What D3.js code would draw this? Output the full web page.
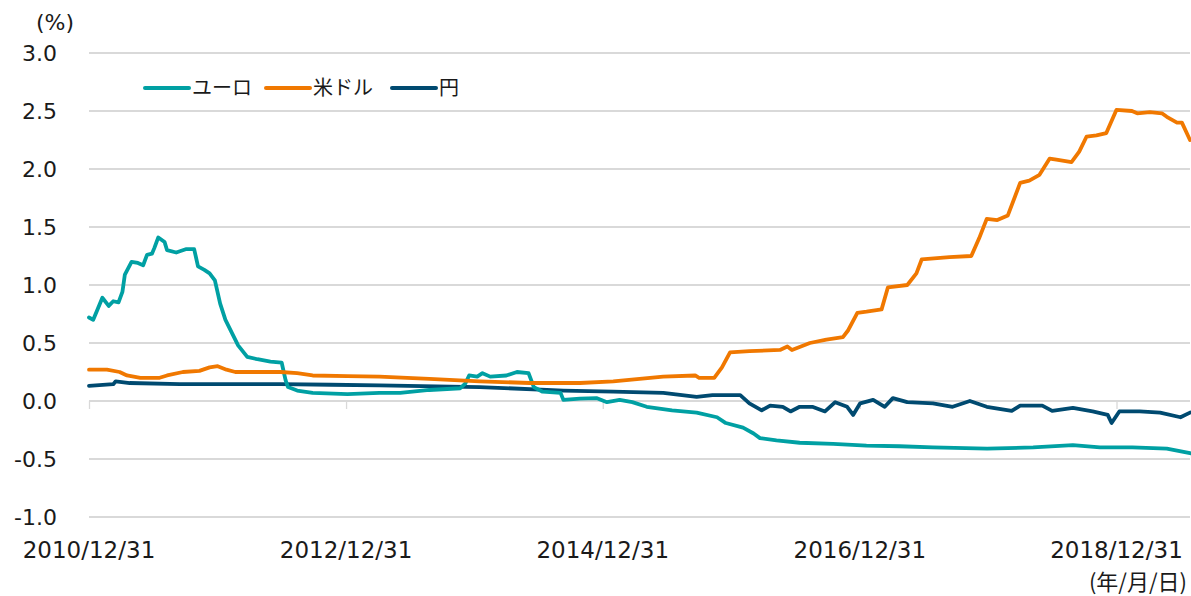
<!DOCTYPE html>
<html lang="ja">

<head>
	<meta charset="utf-8">
	<title>LIBOR 3M</title>
	<script src="https://d3js.org/d3.v7.min.js"></script>
	<style type="text/css">
		body {
			margin: 0;
			background: #fff;
		}

		text {
			font-family: "DejaVu Sans", "Noto Sans CJK JP", sans-serif;
			fill: #1a1a1a;
		}

		.grid line {
			stroke: #d9d9d9;
			stroke-width: 1.3;
			shape-rendering: crispEdges;
		}

		.series {
			fill: none;
			stroke-width: 3.8;
			stroke-linejoin: round;
			stroke-linecap: round;
		}
	</style>
</head>

<body>

	<script type="text/javascript">

		//Series names and colours
		var seriesNames = ["ユーロ", "米ドル", "円"];
		var seriesColors = ["#00A0A3", "#F07800", "#004A70"];

		//Euro
		var euroDates = ["2010-12-31", "2011-01-12", "2011-01-23", "2011-02-07", "2011-02-25", "2011-03-10", "2011-03-25",
			"2011-04-05", "2011-04-12", "2011-05-01", "2011-05-19", "2011-06-03", "2011-06-14", "2011-06-28", "2011-07-05",
			"2011-07-16", "2011-08-03", "2011-08-10", "2011-09-05", "2011-10-04", "2011-10-26", "2011-11-06", "2011-11-24",
			"2011-12-09", "2011-12-24", "2012-01-08", "2012-01-23", "2012-02-10", "2012-02-28", "2012-03-25", "2012-04-23",
			"2012-05-30", "2012-07-01", "2012-07-12", "2012-07-19", "2012-08-14", "2012-09-27", "2013-01-04", "2013-04-05",
			"2013-06-03", "2013-08-25", "2013-11-21", "2013-12-05", "2013-12-16", "2014-01-08", "2014-01-23", "2014-02-14",
			"2014-04-01", "2014-05-01", "2014-06-03", "2014-06-18", "2014-07-13", "2014-09-02", "2014-09-10", "2014-10-27",
			"2014-12-13", "2015-01-12", "2015-02-17", "2015-03-25", "2015-05-05", "2015-07-16", "2015-09-24", "2015-11-21",
			"2015-12-16", "2016-02-03", "2016-03-04", "2016-03-22", "2016-05-08", "2016-07-13", "2016-10-16", "2017-01-19",
			"2017-04-23", "2017-07-27", "2017-12-28", "2018-05-08", "2018-08-29", "2018-11-14", "2019-02-14", "2019-05-23",
			"2019-07-28"];
		var euroValues = [0.72, 0.70, 0.78, 0.89, 0.82, 0.86, 0.85,
			0.94, 1.09, 1.20, 1.19, 1.17, 1.26, 1.27, 1.32,
			1.41, 1.37, 1.30, 1.28, 1.31, 1.31, 1.16, 1.13,
			1.10, 1.04, 0.84, 0.70, 0.59, 0.48, 0.38, 0.36,
			0.34, 0.33, 0.18, 0.12, 0.09, 0.07, 0.06, 0.07,
			0.07, 0.095, 0.11, 0.15, 0.22, 0.21, 0.24, 0.21,
			0.22, 0.25, 0.24, 0.12, 0.08, 0.07, 0.01, 0.02,
			0.025, -0.01, 0.01, -0.01, -0.05, -0.08, -0.10, -0.14,
			-0.19, -0.23, -0.28, -0.32, -0.34, -0.36, -0.37, -0.385,
			-0.39, -0.40, -0.41, -0.40, -0.38, -0.40, -0.40, -0.41,
			-0.45];

		//US dollar
		var usdDates = ["2010-12-31", "2011-02-20", "2011-03-28", "2011-04-18", "2011-05-26", "2011-07-20", "2011-08-10",
			"2011-09-24", "2011-11-10", "2011-12-09", "2012-01-01", "2012-01-26", "2012-02-20", "2012-06-28", "2012-08-14",
			"2012-09-27", "2013-01-04", "2013-04-05", "2013-08-25", "2014-01-15", "2014-06-06", "2014-10-27", "2015-01-30",
			"2015-06-21", "2015-09-20", "2015-10-01", "2015-11-13", "2015-12-05", "2015-12-28", "2016-02-21", "2016-05-18",
			"2016-06-08", "2016-06-21", "2016-08-11", "2016-09-27", "2016-11-13", "2016-11-28", "2016-12-24", "2017-01-19",
			"2017-03-03", "2017-03-21", "2017-05-15", "2017-06-10", "2017-06-25", "2017-09-12", "2017-11-13", "2017-12-05",
			"2017-12-27", "2018-01-26", "2018-02-25", "2018-04-01", "2018-04-27", "2018-05-26", "2018-06-24", "2018-07-13",
			"2018-08-25", "2018-09-16", "2018-10-07", "2018-11-04", "2018-12-02", "2018-12-31", "2019-02-13", "2019-02-28",
			"2019-04-05", "2019-05-09", "2019-05-23", "2019-06-21", "2019-07-05", "2019-07-28"];
		var usdValues = [0.27, 0.27, 0.25, 0.22, 0.20, 0.20, 0.22,
			0.25, 0.26, 0.29, 0.30, 0.27, 0.25, 0.25, 0.24,
			0.22, 0.215, 0.21, 0.19, 0.17, 0.155, 0.155, 0.17,
			0.21, 0.22, 0.20, 0.20, 0.29, 0.42, 0.43, 0.44,
			0.47, 0.44, 0.50, 0.53, 0.55, 0.61, 0.76, 0.77,
			0.79, 0.98, 1.00, 1.10, 1.22, 1.24, 1.25, 1.40,
			1.57, 1.56, 1.60, 1.88, 1.90, 1.95, 2.09, 2.08,
			2.06, 2.15, 2.28, 2.29, 2.31, 2.51, 2.50, 2.48,
			2.49, 2.48, 2.45, 2.40, 2.40, 2.25];

		//Yen
		var jpyDates = ["2010-12-31", "2011-03-10", "2011-03-17", "2011-04-26", "2011-09-15", "2012-06-28", "2012-11-17",
			"2013-04-05", "2014-01-15", "2014-09-10", "2015-01-30", "2015-06-21", "2015-09-24", "2015-11-08", "2016-01-26",
			"2016-02-21", "2016-03-27", "2016-04-20", "2016-05-26", "2016-06-17", "2016-07-13", "2016-08-18", "2016-09-23",
			"2016-10-22", "2016-11-25", "2016-12-12", "2017-01-01", "2017-02-07", "2017-03-12", "2017-04-04", "2017-05-15",
			"2017-07-27", "2017-09-21", "2017-11-09", "2017-12-27", "2018-03-08", "2018-04-01", "2018-06-03", "2018-07-01",
			"2018-08-29", "2018-10-24", "2018-12-06", "2018-12-17", "2019-01-08", "2019-03-07", "2019-05-04", "2019-07-01",
			"2019-07-28"];
		var jpyValues = [0.13, 0.145, 0.17, 0.155, 0.145, 0.145, 0.14,
			0.135, 0.12, 0.09, 0.08, 0.07, 0.035, 0.05, 0.05,
			-0.02, -0.08, -0.04, -0.05, -0.09, -0.05, -0.05, -0.09,
			-0.01, -0.05, -0.12, -0.02, 0.01, -0.05, 0.025, -0.01,
			-0.02, -0.05, 0.0, -0.05, -0.085, -0.04, -0.04, -0.085,
			-0.06, -0.09, -0.12, -0.19, -0.09, -0.09, -0.10, -0.14,
			-0.10];

		//Axis ticks
		var xTickDates = ["2010-12-31", "2012-12-31", "2014-12-31", "2016-12-31", "2018-12-31"];
		var yTicks = [-1.0, -0.5, 0.0, 0.5, 1.0, 1.5, 2.0, 2.5, 3.0];

		//Width and height
		var w = 1191;
		var h = 596;
		var plotLeft = 89, plotRight = 1190, plotTop = 53, plotBottom = 517;

		var parse = d3.timeParse("%Y-%m-%d");

		function makeSeries(dates, values) {
			return dates.map(function (d, i) {
				return { date: parse(d), value: values[i] };
			});
		}

		var series = [
			makeSeries(euroDates, euroValues),
			makeSeries(usdDates, usdValues),
			makeSeries(jpyDates, jpyValues)
		];

		//Create scale functions
		var xScale = d3.scaleTime()
			.domain([parse("2010-12-31"), parse("2019-07-28")])
			.range([plotLeft, plotRight]);

		var yScale = d3.scaleLinear()
			.domain([-1, 3])
			.range([plotBottom, plotTop]);

		//Create SVG element
		var svg = d3.select("body")
			.append("svg")
			.attr("width", w)
			.attr("height", h);

		//Horizontal gridlines
		svg.append("g")
			.attr("class", "grid")
			.selectAll("line")
			.data(yTicks)
			.enter()
			.append("line")
			.attr("x1", plotLeft)
			.attr("x2", plotRight)
			.attr("y1", function (d) { return yScale(d); })
			.attr("y2", function (d) { return yScale(d); });

		//Y axis labels (plain hyphen for negatives, like the original)
		var yAxis = d3.axisLeft(yScale)
			.tickValues(yTicks)
			.tickSize(0)
			.tickPadding(0)
			.tickFormat(function (d) { return d.toFixed(1); });

		var gy = svg.append("g")
			.attr("transform", "translate(57,0)")
			.call(yAxis);
		gy.select(".domain").remove();
		gy.selectAll("text")
			.attr("font-size", "22px")
			.attr("fill", "#1a1a1a")
			.style("font-family", "'DejaVu Sans', sans-serif");

		//X axis at zero with small ticks, labels at the bottom
		var xAxis = d3.axisBottom(xScale)
			.tickValues(xTickDates.map(parse))
			.tickSize(8)
			.tickFormat("");

		var gx = svg.append("g")
			.attr("transform", "translate(0," + yScale(0) + ")")
			.call(xAxis);
		gx.select(".domain").remove();
		gx.selectAll("line")
			.attr("stroke", "#d9d9d9")
			.attr("stroke-width", 1.3);

		svg.append("g")
			.selectAll("text")
			.data(xTickDates)
			.enter()
			.append("text")
			.attr("x", function (d) { return xScale(parse(d)); })
			.attr("y", 558)
			.attr("text-anchor", "middle")
			.attr("font-size", "23px")
			.text(function (d) { return d.replace(/-/g, "/"); });

		//Unit labels
		svg.append("text")
			.attr("x", 36)
			.attr("y", 30)
			.attr("font-size", "22px")
			.text("(%)");

		svg.append("text")
			.attr("x", 1187)
			.attr("y", 590)
			.attr("text-anchor", "end")
			.attr("font-size", "22px")
			.style("font-family", "'Noto Sans CJK JP', sans-serif")
			.text("(年/月/日)");

		//Lines
		var line = d3.line()
			.x(function (d) { return xScale(d.date); })
			.y(function (d) { return yScale(d.value); });

		svg.selectAll("path.series")
			.data([series[2], series[0], series[1]])
			.enter()
			.append("path")
			.attr("class", "series")
			.attr("stroke", function (d, i) { return seriesColors[[2, 0, 1][i]]; })
			.attr("d", line);

		//Legend
		var legendX = [145, 266, 392];
		var legend = svg.append("g");
		seriesNames.forEach(function (name, i) {
			legend.append("line")
				.attr("x1", legendX[i])
				.attr("x2", legendX[i] + 44)
				.attr("y1", 88)
				.attr("y2", 88)
				.attr("stroke", seriesColors[i])
				.attr("stroke-width", 4)
				.attr("stroke-linecap", "round");
			legend.append("text")
				.attr("x", legendX[i] + 47)
				.attr("y", 95)
				.attr("font-size", "20px")
				.style("font-family", "'Noto Sans CJK JP', sans-serif")
				.text(name);
		});

	</script>
</body>

</html>
